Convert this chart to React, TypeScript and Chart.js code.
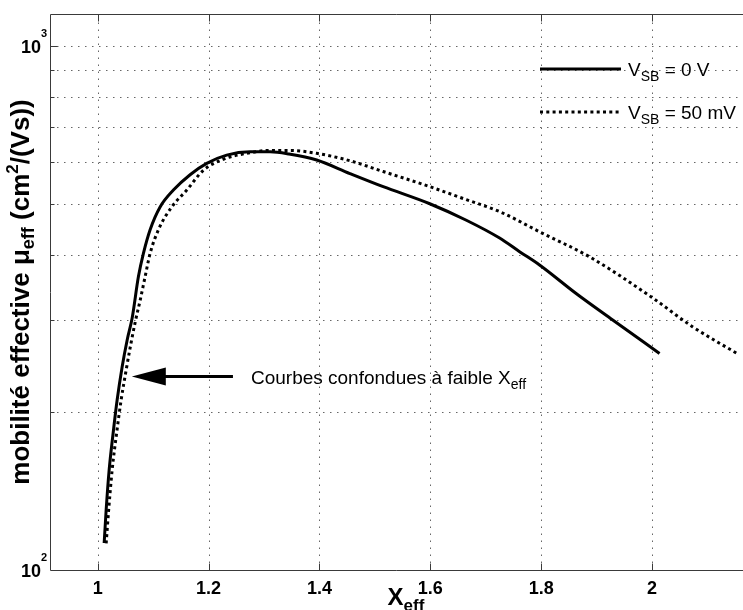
import React, { useEffect, useRef } from "react";
import { Chart, registerables } from "chart.js";

Chart.register(...registerables);

const FONT = '"Liberation Sans", Arial, Helvetica, sans-serif';

// V_SB = 0 V (solid)
const xSolid = [1.0117, 1.0153, 1.0207, 1.0279, 1.0351, 1.0441, 1.0532, 1.0622, 1.0735, 1.0825, 1.0946, 1.1126, 1.1366, 1.1667, 1.1967, 1.2327, 1.2748, 1.311, 1.345, 1.395, 1.455, 1.515, 1.599, 1.665, 1.725, 1.761, 1.797, 1.863, 1.929, 2.0135];
const ySolid = [112.6, 130.2, 155.2, 182.6, 211.1, 244.1, 274.8, 302.6, 363, 402, 446, 493, 531, 568, 597, 619, 628, 628, 622, 606, 571, 539, 500, 465, 430, 405, 382, 337, 300, 259];

// V_SB = 50 mV (dotted)
const xDotted = [1.0153, 1.0198, 1.0261, 1.0342, 1.0423, 1.0514, 1.0595, 1.0685, 1.0766, 1.0856, 1.0946, 1.1096, 1.1336, 1.1607, 1.1906, 1.2267, 1.2688, 1.311, 1.347, 1.395, 1.455, 1.515, 1.599, 1.665, 1.725, 1.797, 1.887, 1.9985, 2.0735, 2.153];
const yDotted = [112.4, 130.2, 155.2, 182.6, 211.1, 240.9, 268.8, 300, 327, 363, 402, 446, 493, 531, 579, 608, 624, 632, 632, 624, 604, 576, 539, 509, 483, 442, 396, 332, 291, 259];

const xTicks = [1, 1.2, 1.4, 1.6, 1.8, 2];
const yGridValues = [200, 300, 400, 500, 600, 700, 800, 900, 1000];
const yMajorTicks = [100, 1000];
const yMajorExponents = ["2", "3"];

const legendMain = ["V", "V"];
const legendSub = ["SB", "SB"];
const legendRest = [" = 0 V", " = 50 mV"];

const annotationText = "Courbes confondues à faible X";
const annotationSub = "eff";
const arrowTail = { x: 1.244, y: 234 };
const arrowTip = { x: 1.0616, y: 234 };

type Seg = { t: string; size: number; bold?: boolean; dy?: number };

function font(size: number, bold?: boolean) {
  return `${bold ? "bold " : ""}${size}px ${FONT}`;
}

function richWidth(ctx: CanvasRenderingContext2D, segs: Seg[]) {
  let w = 0;
  for (const s of segs) {
    ctx.font = font(s.size, s.bold);
    w += ctx.measureText(s.t).width;
  }
  return w;
}

function drawRich(ctx: CanvasRenderingContext2D, segs: Seg[], x: number, y: number) {
  let cx = x;
  ctx.textAlign = "left";
  ctx.textBaseline = "alphabetic";
  for (const s of segs) {
    ctx.font = font(s.size, s.bold);
    ctx.fillText(s.t, cx, y + (s.dy || 0));
    cx += ctx.measureText(s.t).width;
  }
}

const decorPlugin = {
  id: "decor",
  beforeDatasetsDraw(chart: any) {
    const { ctx, chartArea } = chart;
    const { left, top, right, bottom } = chartArea;
    const xs = chart.scales.x;
    const ys = chart.scales.y;
    ctx.save();
    ctx.strokeStyle = "#666";
    ctx.lineWidth = 1;
    ctx.setLineDash([1.5, 5.5]);
    for (const v of xTicks) {
      const px = Math.round(xs.getPixelForValue(v)) + 0.5;
      ctx.beginPath();
      ctx.moveTo(px, bottom);
      ctx.lineTo(px, top);
      ctx.stroke();
    }
    for (const v of yGridValues) {
      const py = Math.round(ys.getPixelForValue(v)) + 0.5;
      ctx.beginPath();
      ctx.moveTo(left, py);
      ctx.lineTo(right, py);
      ctx.stroke();
    }
    ctx.restore();
  },
  afterDraw(chart: any) {
    const { ctx, chartArea } = chart;
    const { left, top, right, bottom } = chartArea;
    const xs = chart.scales.x;
    const ys = chart.scales.y;
    ctx.save();
    ctx.strokeStyle = "#3a3a3a";
    ctx.lineWidth = 1;
    ctx.setLineDash([]);
    const L = Math.round(left) + 0.5;
    const B = Math.round(bottom) + 0.5;
    const T = Math.round(top) + 0.5;
    ctx.beginPath();
    ctx.moveTo(L, T);
    ctx.lineTo(right, T);
    ctx.moveTo(L, T);
    ctx.lineTo(L, B);
    ctx.lineTo(right, B);
    ctx.stroke();
    for (const v of xTicks) {
      const px = Math.round(xs.getPixelForValue(v)) + 0.5;
      ctx.beginPath();
      ctx.moveTo(px, B);
      ctx.lineTo(px, B - 7);
      ctx.moveTo(px, T);
      ctx.lineTo(px, T + 7);
      ctx.stroke();
    }
    for (const v of yGridValues) {
      const py = Math.round(ys.getPixelForValue(v)) + 0.5;
      const len = yMajorTicks.includes(v) ? 7 : 4;
      ctx.beginPath();
      ctx.moveTo(L, py);
      ctx.lineTo(L + len, py);
      ctx.stroke();
    }

    ctx.fillStyle = "#000";
    yMajorTicks.forEach((v, i) => {
      const py = ys.getPixelForValue(v);
      ctx.font = font(18, true);
      ctx.textAlign = "right";
      ctx.textBaseline = "alphabetic";
      ctx.fillText("10", 41, py + 6.5);
      ctx.font = font(11, true);
      ctx.textAlign = "left";
      ctx.fillText(yMajorExponents[i], 41, py - 9);
    });

    const ySegs: Seg[] = [
      { t: "mobilité effective μ", size: 26, bold: true },
      { t: "eff", size: 18, bold: true, dy: 5 },
      { t: " (cm", size: 26, bold: true },
      { t: "2", size: 17, bold: true, dy: -11 },
      { t: "/(Vs))", size: 26, bold: true },
    ];
    ctx.save();
    ctx.translate(29, (top + bottom) / 2);
    ctx.rotate(-Math.PI / 2);
    const yw = richWidth(ctx, ySegs);
    drawRich(ctx, ySegs, -yw / 2, 0);
    ctx.restore();

    const xSegs: Seg[] = [
      { t: "X", size: 24, bold: true },
      { t: "eff", size: 17, bold: true, dy: 6 },
    ];
    const xw = richWidth(ctx, xSegs);
    drawRich(ctx, xSegs, 406 - xw / 2, 605);

    const legendY = [69, 112];
    ctx.lineWidth = 3;
    ctx.strokeStyle = "#000";
    legendY.forEach((ly, i) => {
      ctx.setLineDash(i === 0 ? [] : [3, 3.3]);
      ctx.beginPath();
      ctx.moveTo(540, ly);
      ctx.lineTo(621, ly);
      ctx.stroke();
      ctx.setLineDash([]);
      drawRich(
        ctx,
        [
          { t: legendMain[i], size: 19 },
          { t: legendSub[i], size: 14, dy: 5 },
          { t: legendRest[i], size: 19 },
        ],
        628,
        ly + 7
      );
    });

    const tx = xs.getPixelForValue(arrowTail.x);
    const ty = ys.getPixelForValue(arrowTail.y);
    const hx = xs.getPixelForValue(arrowTip.x);
    const hy = ys.getPixelForValue(arrowTip.y);
    ctx.lineWidth = 3;
    ctx.beginPath();
    ctx.moveTo(tx, ty);
    ctx.lineTo(hx + 30, hy);
    ctx.stroke();
    ctx.beginPath();
    ctx.moveTo(hx, hy);
    ctx.lineTo(hx + 34, hy - 9);
    ctx.lineTo(hx + 34, hy + 9);
    ctx.closePath();
    ctx.fill();
    drawRich(
      ctx,
      [
        { t: annotationText, size: 19 },
        { t: annotationSub, size: 14, dy: 5 },
      ],
      tx + 18,
      ty + 7
    );
    ctx.restore();
  },
};

export default function App() {
  const ref = useRef<HTMLCanvasElement>(null);
  useEffect(() => {
    if (!ref.current) return;
    const chart = new Chart(ref.current, {
      type: "line",
      data: {
        datasets: [
          {
            label: "V_SB = 0 V",
            data: xSolid.map((x, i) => ({ x, y: ySolid[i] })),
            borderColor: "#000",
            borderWidth: 3,
            pointRadius: 0,
            fill: false,
            cubicInterpolationMode: "monotone",
          },
          {
            label: "V_SB = 50 mV",
            data: xDotted.map((x, i) => ({ x, y: yDotted[i] })),
            borderColor: "#000",
            borderWidth: 3,
            borderDash: [3, 3.3],
            borderCapStyle: "butt",
            pointRadius: 0,
            fill: false,
            cubicInterpolationMode: "monotone",
          },
        ],
      },
      options: {
        responsive: false,
        animation: false,
        devicePixelRatio: 1,
        layout: { padding: { top: 14, left: 0, right: 0, bottom: 0 } },
        plugins: { legend: { display: false }, tooltip: { enabled: false } },
        scales: {
          x: {
            type: "linear",
            min: 0.914,
            max: 2.164,
            afterBuildTicks: (s: any) => {
              s.ticks = xTicks.map((v) => ({ value: v }));
            },
            afterFit: (s: any) => {
              s.height = 40;
            },
            grid: { display: false, drawTicks: false },
            border: { display: false },
            ticks: {
              font: { family: FONT, size: 18, weight: "bold" },
              color: "#000",
              padding: 8,
              maxRotation: 0,
              autoSkip: false,
              callback: (v: any) => String(v),
            },
          },
          y: {
            type: "logarithmic",
            min: 100,
            max: 1151,
            afterBuildTicks: (s: any) => {
              s.ticks = [100, ...yGridValues].map((v) => ({ value: v }));
            },
            afterFit: (s: any) => {
              s.width = 50;
            },
            grid: { display: false, drawTicks: false },
            border: { display: false },
            ticks: { display: false },
          },
        },
      } as any,
      plugins: [decorPlugin],
    });
    return () => chart.destroy();
  }, []);
  return (
    <div style={{ position: "absolute", left: 0, top: 0, width: 743, height: 610, background: "#fff" }}>
      <canvas ref={ref} width={743} height={610} style={{ display: "block" }} />
    </div>
  );
}
